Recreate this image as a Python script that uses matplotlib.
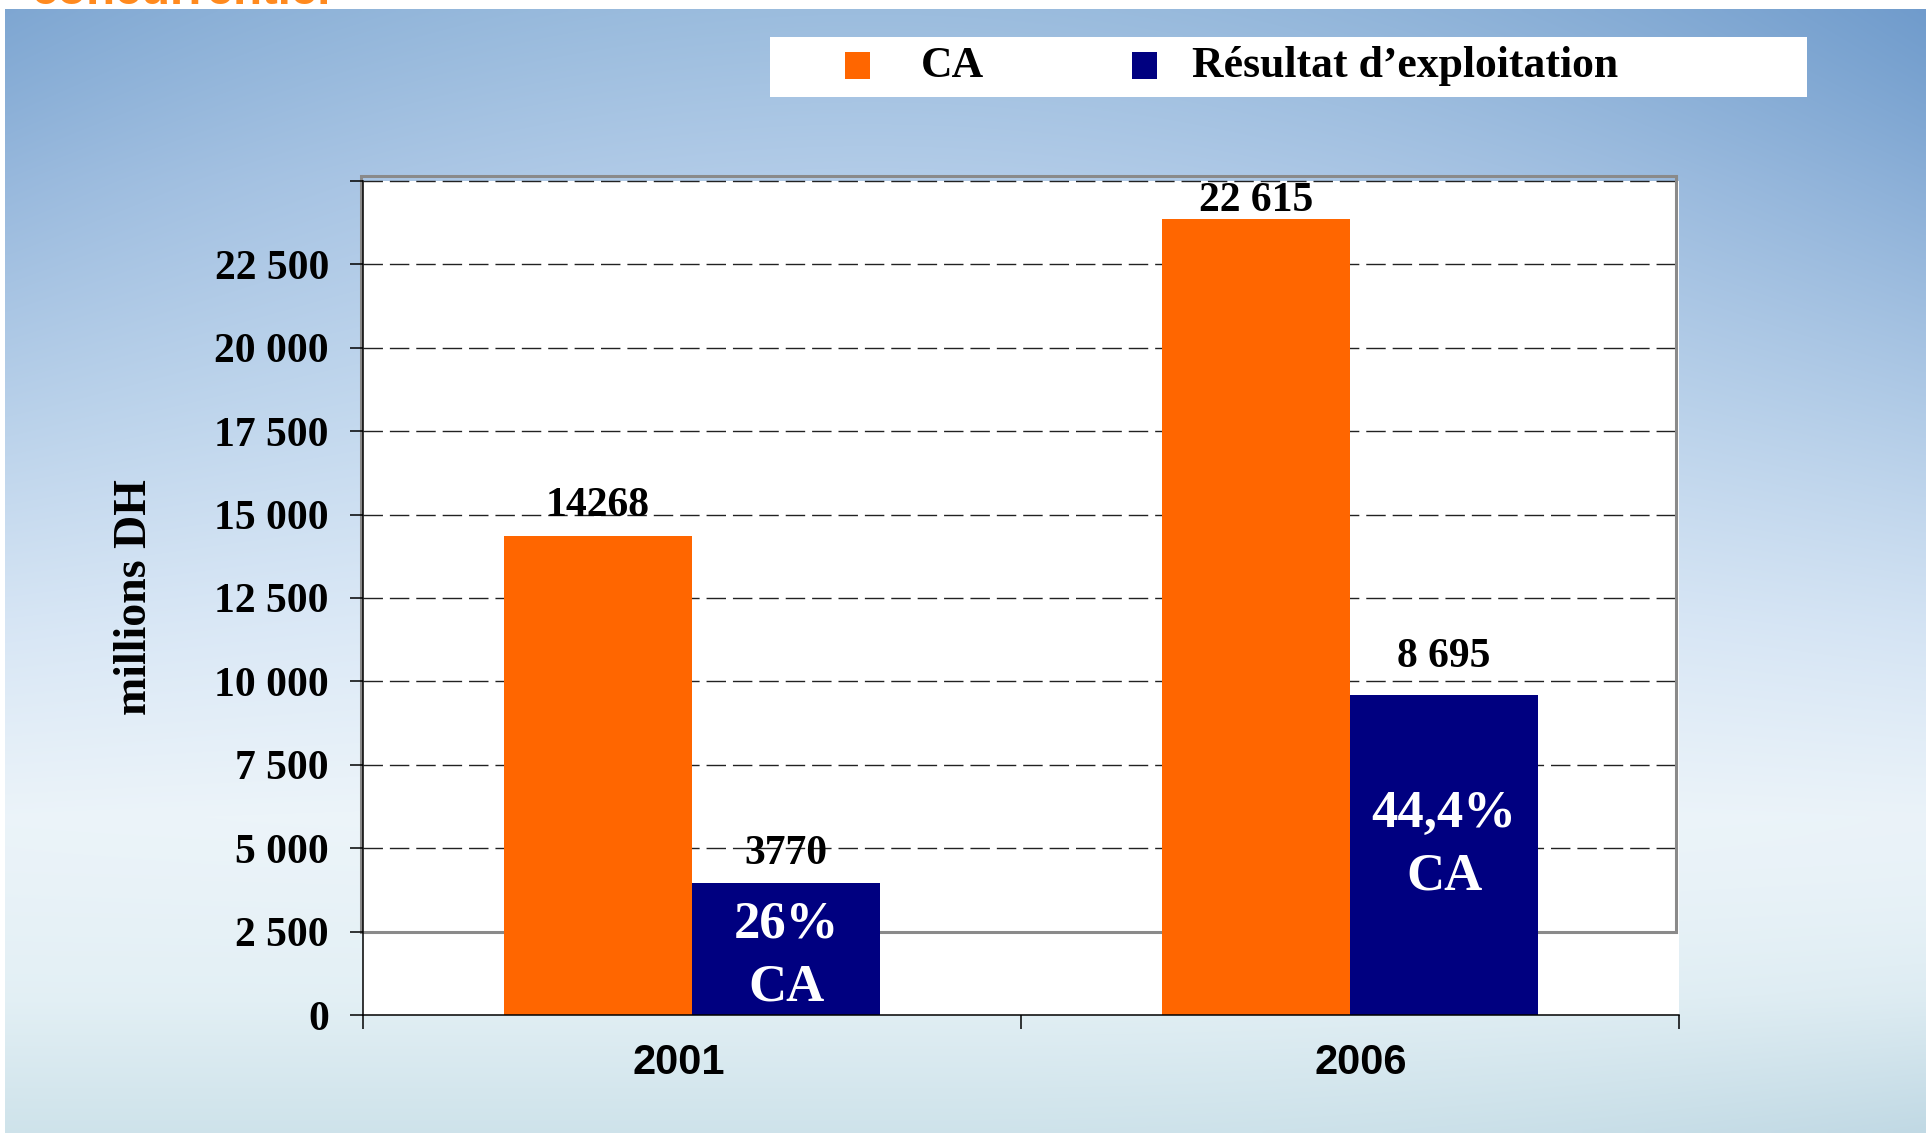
import numpy as np
import matplotlib
matplotlib.use('Agg')
import matplotlib.pyplot as plt
from matplotlib.patches import Rectangle

# ---------------- data ----------------
years = ['2001', '2006']
ca_values = [14360, 23860]          # bar heights as drawn in the picture
re_values = [3960, 9590]
ca_labels = ['14268', '22 615']      # printed value labels
re_labels = ['3770', '8 695']
share_labels = ['26%\nCA', '44,4%\nCA']
series_names = ['CA', 'Résultat d’exploitation']
yticks = [0, 2500, 5000, 7500, 10000, 12500, 15000, 17500, 20000, 22500, 25000]
ytick_labels = ['0', '2 500', '5 000', '7 500', '10 000', '12 500', '15 000',
                '17 500', '20 000', '22 500', '']
y_title = 'millions DH'
top_title = 'concurrentiel'

# ---------------- layout / style ----------------
ORANGE = '#FF6600'
NAVY = '#000080'
SERIF = 'Liberation Serif'
SANS = 'Liberation Sans'
W, H = 1931, 1137
share_pos = [0.445, 0.53]       # vertical position of inner labels (fraction of bar)
ca_label_off = [14.7, 5.8]      # label offsets above bars, points
re_label_off = [13.8, 20.0]
year_label_shift = [-0.0205, 0.0167]   # small horizontal shifts of year labels

fig = plt.figure(figsize=(W / 100, H / 100), dpi=100, facecolor='white')

# ---------------- background gradient ----------------
bg = fig.add_axes([5 / W, 1 - 1133 / H, (1926 - 5) / W, (1133 - 9) / H])
ny, nx = 240, 320
v = np.linspace(0, 1, ny)[:, None]
x = np.linspace(0, 1, nx)[None, :]
stops_v = [0.0, 0.15, 0.35, 0.55, 0.72, 0.88, 1.0]
stops_c = np.array([
    [0.61, 0.74, 0.87],
    [0.70, 0.80, 0.91],
    [0.78, 0.86, 0.94],
    [0.87, 0.92, 0.97],
    [0.93, 0.96, 0.98],
    [0.89, 0.94, 0.96],
    [0.81, 0.89, 0.92],
])
base = np.stack([np.interp(v[:, 0], stops_v, stops_c[:, i]) for i in range(3)], axis=-1)
base = np.broadcast_to(base[:, None, :], (ny, nx, 3))
w = np.clip(((x - 0.45) / 0.55) ** 2 * (1 - v) ** 3, 0, 1)[..., None]
dark = np.array([0.44, 0.61, 0.80])
img = base * (1 - w) + dark * w
w2 = ((np.clip(x - 0.5, 0, None) / 0.5) ** 2 * np.clip((v - 0.75) / 0.25, 0, 1) ** 2 * 0.35)[..., None]
img = img * (1 - w2) + np.array([0.66, 0.78, 0.85]) * w2
bg.imshow(img, aspect='auto', interpolation='bilinear')
bg.axis('off')

# ---------------- main axes ----------------
ax = fig.add_axes([363 / W, 1 - 1015 / H, (1679 - 363) / W, (1015 - 181) / H])
ax.set_facecolor('white')
ax.set_xlim(-0.5, 1.5)
ax.set_ylim(0, 25000)

xpos = np.arange(len(years))
bw = 0.286
ax.bar(xpos - bw / 2, ca_values, bw, color=ORANGE, zorder=3, label=series_names[0])
ax.bar(xpos + bw / 2, re_values, bw, color=NAVY, zorder=3, label=series_names[1])

# gray plot-area frame (offset, as in the original)
ax.add_patch(Rectangle((-0.503, 2500), 1.9985, 22650, fill=False,
                       edgecolor='#8a8a8a', lw=2.2, zorder=1.5, clip_on=False))

for yv in yticks:
    if yv >= 5000:
        ax.axhline(yv, color='#222222', lw=1.0, dashes=(14, 5), zorder=1, clip_on=False)

for s in ['top', 'right']:
    ax.spines[s].set_visible(False)
for s in ['left', 'bottom']:
    ax.spines[s].set_color('black')
    ax.spines[s].set_linewidth(1.1)
    ax.spines[s].set_zorder(4)

ax.set_yticks(yticks)
ax.set_yticklabels(ytick_labels, fontfamily=SERIF, fontweight='bold', fontsize=30)
ax.tick_params(axis='y', direction='out', length=9.5, width=1.1, pad=15, color='black')

ax.set_xticks([-0.5, 0.5, 1.5])
ax.set_xticklabels([])
ax.tick_params(axis='x', which='major', direction='out', length=10, width=1.1, color='black')
ax.set_xticks(xpos + np.array(year_label_shift), minor=True)
ax.set_xticklabels(years, minor=True, fontfamily=SANS, fontweight='bold', fontsize=30)
ax.tick_params(axis='x', which='minor', length=0, pad=20)

# value labels
for i in range(len(years)):
    ax.annotate(ca_labels[i], (xpos[i] - bw / 2, ca_values[i]), xytext=(0, ca_label_off[i]),
                textcoords='offset points', ha='center', va='baseline',
                fontsize=30, fontfamily=SERIF, fontweight='bold', zorder=5,
                annotation_clip=False)
    ax.annotate(re_labels[i], (xpos[i] + bw / 2, re_values[i]), xytext=(0, re_label_off[i]),
                textcoords='offset points', ha='center', va='baseline',
                fontsize=30, fontfamily=SERIF, fontweight='bold', zorder=5,
                annotation_clip=False)
    ax.text(xpos[i] + bw / 2, re_values[i] * share_pos[i], share_labels[i],
            color='white', ha='center', va='center', fontsize=38,
            fontfamily=SERIF, fontweight='bold', linespacing=1.4, zorder=5)

# y title
fig.text(135 / W, 1 - 597 / H, y_title, rotation=90, ha='center', va='center',
         fontsize=33, fontfamily=SERIF, fontweight='bold')

# legend box
fig.add_artist(Rectangle((770 / W, 1 - 97 / H), (1807 - 770) / W, 60 / H,
                         transform=fig.transFigure, facecolor='white',
                         edgecolor='none', zorder=2))
for xl, xt, col, name in [(845, 921, ORANGE, series_names[0]),
                          (1132, 1192, NAVY, series_names[1])]:
    fig.add_artist(Rectangle((xl / W, 1 - 79 / H), 25 / W, 27 / H,
                             transform=fig.transFigure, facecolor=col,
                             edgecolor='none', zorder=3))
    fig.text(xt / W, 1 - 77 / H, name, ha='left', va='baseline', fontsize=31.5,
             fontfamily=SERIF, fontweight='bold', zorder=3)

# title at the very top, only its lower edge visible as in the original
fig.text(31 / W, 1 - 4 / H, top_title, ha='left', va='baseline', fontsize=34,
         fontfamily=SANS, fontweight='bold', color='#FF8A1F')

fig.savefig('out.png', dpi=100, facecolor='white')
